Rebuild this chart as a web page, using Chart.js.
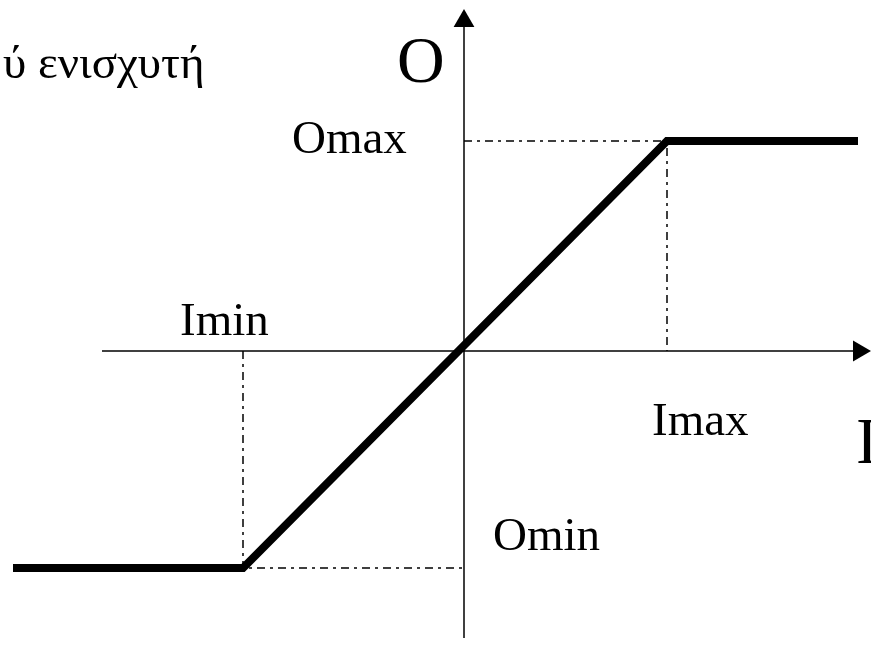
<!DOCTYPE html>
<html>
<head>
<meta charset="utf-8">
<script src="https://cdn.jsdelivr.net/npm/chart.js@4/dist/chart.umd.min.js"></script>
<style>
html,body{margin:0;padding:0;background:#fff;}
canvas{display:block;}
</style>
</head>
<body>
<canvas id="c" width="871" height="648"></canvas>
<script>
// Transfer characteristic (units: arbitrary, origin at axis crossing)
const inputPoints  = [-4.51, -2.21, 2.03, 3.94];   // I
const outputPoints = [-2.17, -2.17, 2.10, 2.10];   // O
const Imin = -2.21, Imax = 2.03, Omin = -2.17, Omax = 2.10;
const xAxisSpan = [-3.62, 3.95];
const yAxisSpan = [-2.87, 3.30];
const labels = ["ύ ενισχυτή", "O", "Omax", "Imin", "Imax", "Omin", "I"];
const labelAnchors = [[-4.61, 2.73], [-0.67, 2.69], [-1.72, 1.98], [-2.84, 0.16], [1.88, -0.84], [0.29, -1.99], [3.92, -1.12]];
const labelSizes = [47, 66, 47, 47, 47, 47, 66];

const curve = inputPoints.map((x, i) => ({x, y: outputPoints[i]}));
const dashDot = [8, 5, 3, 5];

const textPlugin = {
  id: 'texts',
  afterDatasetsDraw(chart) {
    const {ctx, scales: {x, y}} = chart;
    ctx.save();
    ctx.fillStyle = '#000';
    ctx.textAlign = 'left';
    ctx.textBaseline = 'alphabetic';
    labels.forEach((t, i) => {
      ctx.font = labelSizes[i] + 'px "Liberation Serif", "Times New Roman", serif';
      ctx.fillText(t, x.getPixelForValue(labelAnchors[i][0]), y.getPixelForValue(labelAnchors[i][1]));
    });
    ctx.restore();
  }
};

const common = { clip: false, pointHoverRadius: 0, pointHitRadius: 0 };

new Chart(document.getElementById('c'), {
  type: 'scatter',
  data: {
    datasets: [
      { ...common, data: [{x: xAxisSpan[0], y: 0}, {x: xAxisSpan[1], y: 0}], showLine: true, borderColor: '#000', borderWidth: 1.5, pointRadius: 0 },
      { ...common, data: [{x: 0, y: yAxisSpan[0]}, {x: 0, y: yAxisSpan[1]}], showLine: true, borderColor: '#000', borderWidth: 1.5, pointRadius: 0 },
      { ...common, data: [{x: xAxisSpan[1], y: 0}], pointStyle: 'triangle', rotation: 90, pointRadius: 12, backgroundColor: '#000', borderColor: '#000', borderWidth: 0 },
      { ...common, data: [{x: 0, y: yAxisSpan[1]}], pointStyle: 'triangle', rotation: 0, pointRadius: 12, backgroundColor: '#000', borderColor: '#000', borderWidth: 0 },
      { ...common, data: [{x: 0, y: Omax}, {x: Imax, y: Omax}, {x: Imax, y: 0}], showLine: true, borderColor: '#000', borderWidth: 1.5, borderDash: dashDot, pointRadius: 0 },
      { ...common, data: [{x: Imin, y: 0}, {x: Imin, y: Omin}, {x: 0, y: Omin}], showLine: true, borderColor: '#000', borderWidth: 1.5, borderDash: dashDot, pointRadius: 0 },
      { ...common, data: curve, showLine: true, borderColor: '#000', borderWidth: 8, borderJoinStyle: 'miter', borderCapStyle: 'butt', pointRadius: 0 }
    ]
  },
  options: {
    responsive: false,
    animation: false,
    events: [],
    layout: { padding: 0 },
    plugins: { legend: { display: false }, tooltip: { enabled: false } },
    scales: {
      // chart area is inset by the 12px arrow-point overflow on each side
      x: { type: 'linear', min: -4.52, max: 3.95, display: false },
      y: { type: 'linear', min: -2.85, max: 3.39, display: false }
    }
  },
  plugins: [textPlugin]
});
</script>
</body>
</html>
